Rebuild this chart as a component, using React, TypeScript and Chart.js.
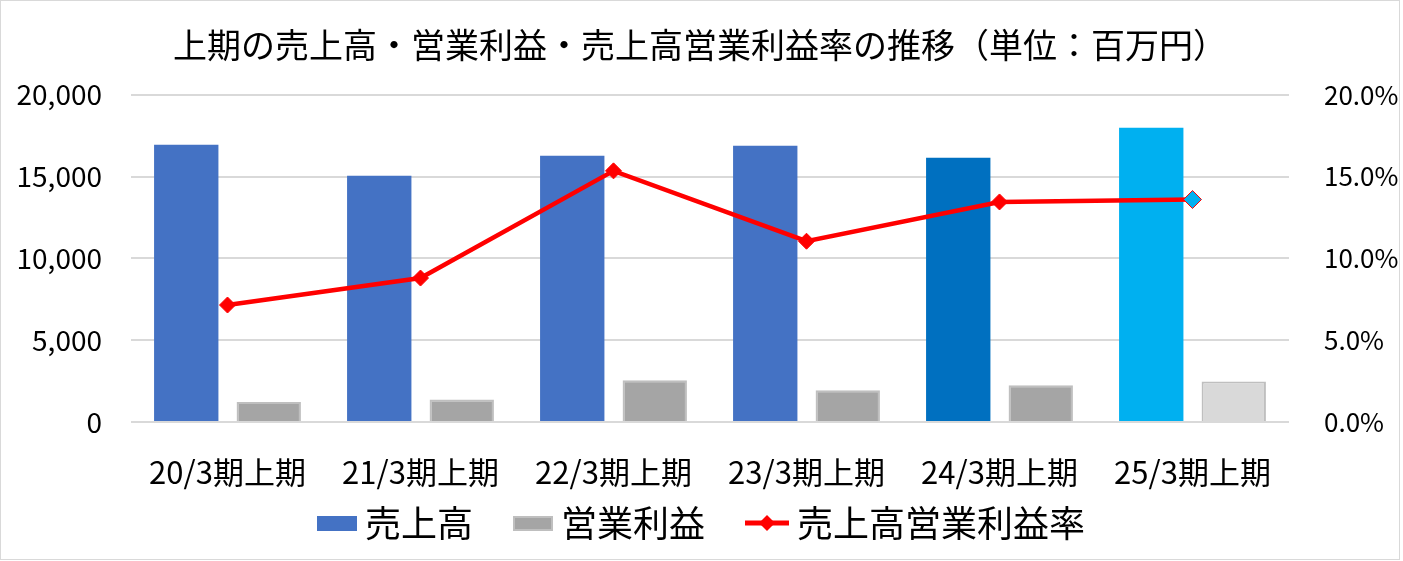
import React, { useEffect, useRef } from 'react';
import { Chart, registerables } from 'chart.js';

Chart.register(...registerables);

const titleText = '上期の売上高・営業利益・売上高営業利益率の推移（単位：百万円）';
const categories = ['20/3期上期', '21/3期上期', '22/3期上期', '23/3期上期', '24/3期上期', '25/3期上期'];
const seriesNames = ['売上高', '営業利益', '売上高営業利益率'];
const salesValues = [16950, 15050, 16270, 16880, 16150, 17990];
const profitValues = [1220, 1370, 2550, 1940, 2250, 2470];
const marginValues = [7.15, 8.8, 15.35, 11.05, 13.45, 13.6];
const salesColors = ['#4472C4', '#4472C4', '#4472C4', '#4472C4', '#0070C0', '#00B0F0'];
const profitColors = ['#A5A5A5', '#A5A5A5', '#A5A5A5', '#A5A5A5', '#A5A5A5', '#D9D9D9'];
const markerColors = ['#FF0000', '#FF0000', '#FF0000', '#FF0000', '#FF0000', '#00B0F0'];
const markerRadius = [8, 8, 8, 8, 8, 9];

const FONT = '"Noto Sans CJK JP", "Noto Sans", sans-serif';

const legendPlugin = {
  id: 'customLegend',
  afterDraw(chart: any) {
    const ctx = chart.ctx as CanvasRenderingContext2D;
    ctx.save();
    ctx.font = `36px ${FONT}`;
    ctx.textBaseline = 'middle';
    ctx.textAlign = 'left';
    const boxW = 40;
    const lineW = 44;
    const gap = 8;
    const itemGap = 40;
    const ds = chart.data.datasets;
    const symW = ds.map((d: any) => (d.type === 'line' ? lineW : boxW));
    const textW = ds.map((d: any) => ctx.measureText(d.label).width);
    let total = 0;
    ds.forEach((_: any, i: number) => {
      total += symW[i] + gap + textW[i];
      if (i < ds.length - 1) total += itemGap;
    });
    let x = chart.width / 2 - total / 2 + 1;
    const y = 522;
    ds.forEach((d: any, i: number) => {
      if (d.type === 'line') {
        ctx.strokeStyle = d.borderColor;
        ctx.lineWidth = 5;
        ctx.beginPath();
        ctx.moveTo(x, y);
        ctx.lineTo(x + lineW, y);
        ctx.stroke();
        const r = 8;
        const cx = x + lineW / 2;
        ctx.fillStyle = '#FF0000';
        ctx.beginPath();
        ctx.moveTo(cx, y - r);
        ctx.lineTo(cx + r, y);
        ctx.lineTo(cx, y + r);
        ctx.lineTo(cx - r, y);
        ctx.closePath();
        ctx.fill();
      } else {
        const bg = Array.isArray(d.backgroundColor) ? d.backgroundColor[0] : d.backgroundColor;
        ctx.fillStyle = bg;
        ctx.fillRect(x, y - 7, boxW, 15);
        if (d.borderWidth) {
          ctx.strokeStyle = Array.isArray(d.borderColor) ? d.borderColor[0] : d.borderColor;
          ctx.lineWidth = 2;
          ctx.strokeRect(x + 1, y - 6, boxW - 2, 13);
        }
      }
      x += symW[i] + gap;
      ctx.fillStyle = '#000';
      ctx.fillText(d.label, x, y);
      x += textW[i] + itemGap;
    });
    ctx.restore();
  },
};

export default function App() {
  const canvasRef = useRef<HTMLCanvasElement | null>(null);

  useEffect(() => {
    if (!canvasRef.current) return;
    const chart = new Chart(canvasRef.current, {
      type: 'bar',
      data: {
        labels: categories,
        datasets: [
          {
            type: 'bar',
            label: seriesNames[0],
            data: salesValues,
            backgroundColor: salesColors,
            borderWidth: 0,
            yAxisID: 'y',
            order: 1,
            categoryPercentage: 0.855,
            barPercentage: 0.78,
          } as any,
          {
            type: 'bar',
            label: seriesNames[1],
            data: profitValues,
            backgroundColor: profitColors,
            borderColor: '#BFBFBF',
            borderWidth: 2,
            yAxisID: 'y',
            order: 1,
            categoryPercentage: 0.855,
            barPercentage: 0.78,
          } as any,
          {
            type: 'line',
            label: seriesNames[2],
            data: marginValues,
            borderColor: '#FF0000',
            borderWidth: 4.5,
            pointStyle: 'rectRot',
            pointRadius: markerRadius,
            pointBackgroundColor: markerColors,
            pointBorderColor: '#FF0000',
            pointBorderWidth: 1,
            yAxisID: 'y1',
            order: 0,
            tension: 0,
          } as any,
        ],
      },
      options: {
        responsive: false,
        animation: false,
        layout: { padding: 0 },
        plugins: {
          legend: { display: false },
          tooltip: { enabled: false },
          title: {
            display: true,
            text: titleText,
            color: '#000',
            font: { family: FONT, size: 34, weight: 'normal' },
            padding: { top: 24, bottom: 29 },
          },
        },
        scales: {
          x: {
            grid: { display: false },
            border: { display: false },
            ticks: {
              color: '#000',
              font: { family: FONT, size: 31 },
              padding: 24,
              maxRotation: 0,
              autoSkip: false,
            },
            afterFit: (s: any) => {
              s.height = 137;
            },
          },
          y: {
            position: 'left',
            min: 0,
            max: 20000,
            grid: { color: '#D9D9D9', lineWidth: 2, drawTicks: false },
            border: { display: false },
            ticks: {
              stepSize: 5000,
              color: '#000',
              font: { family: FONT, size: 28 },
              padding: 29,
              callback: (v: any) => Number(v).toLocaleString('en-US'),
            },
            afterFit: (s: any) => {
              s.width = 130;
            },
          },
          y1: {
            position: 'right',
            min: 0,
            max: 20,
            grid: { display: false },
            border: { display: false },
            ticks: {
              stepSize: 5,
              color: '#000',
              font: { family: FONT, size: 26 },
              padding: 27,
              callback: (v: any) => Number(v).toFixed(1) + '%',
            },
            afterFit: (s: any) => {
              s.width = 110;
            },
          },
        },
      },
      plugins: [legendPlugin],
    } as any);
    return () => chart.destroy();
  }, []);

  return (
    <div
      style={{
        position: 'absolute',
        left: 0,
        top: 0,
        width: 1400,
        height: 560,
        border: '1px solid #D9D9D9',
        boxSizing: 'border-box',
        background: '#fff',
      }}
    >
      <canvas ref={canvasRef} width={1398} height={558} style={{ display: 'block' }} />
    </div>
  );
}
